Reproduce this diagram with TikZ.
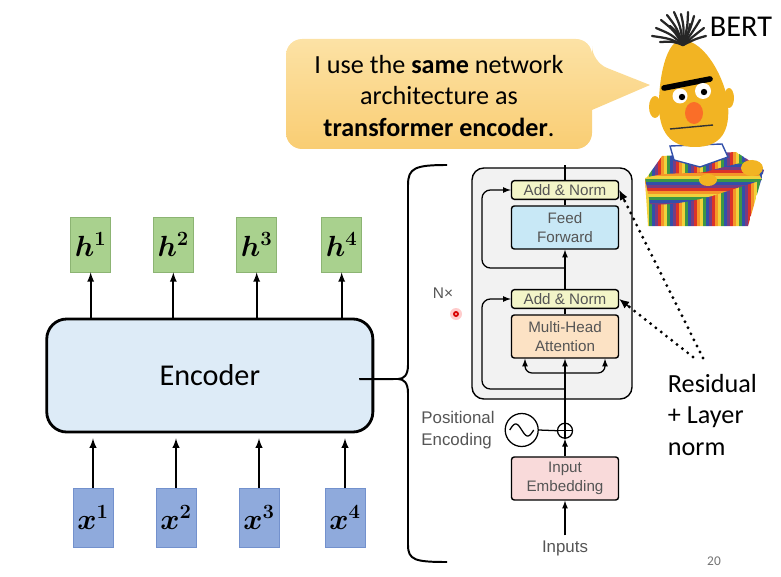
\documentclass[tikz,border=0pt]{standalone}
\usepackage{amsmath}
\usepackage{bm}
\usepackage{fontspec}
\setmainfont{Carlito}
\newfontfamily\helv{Liberation Sans}
\usepackage{tikz}
\usetikzlibrary{arrows,arrows.meta,positioning,calc}

\definecolor{vertH}{RGB}{169,209,142}
\definecolor{vertHbord}{RGB}{140,180,115}
\definecolor{bleuX}{RGB}{143,170,220}
\definecolor{bleuXbord}{RGB}{115,145,205}
\definecolor{bleuEnc}{RGB}{221,235,247}
\definecolor{grisBloc}{RGB}{242,242,242}
\definecolor{jauneNorm}{RGB}{243,245,200}
\definecolor{bleuFF}{RGB}{200,232,246}
\definecolor{orangeMHA}{RGB}{252,226,196}
\definecolor{roseEmb}{RGB}{249,218,218}
\definecolor{texteGris}{RGB}{85,85,85}
\definecolor{bulleHaut}{RGB}{252,226,165}
\definecolor{bulleBas}{RGB}{249,205,115}
\definecolor{jauneBert}{RGB}{242,180,35}
\definecolor{nezBert}{RGB}{250,110,40}
\definecolor{rougeB}{RGB}{220,50,40}
\definecolor{orangeB}{RGB}{245,150,40}
\definecolor{jauneB}{RGB}{240,210,60}
\definecolor{vertB}{RGB}{60,150,70}
\definecolor{bleuB}{RGB}{50,80,170}
\definecolor{violetB}{RGB}{120,60,130}

\begin{document}
\begin{tikzpicture}[x=0.025cm,y=-0.025cm]
\tikzstyle{fleche}=[->,>=latex,line width=1.3pt]
\tikzstyle{flechefine}=[->,>=latex,line width=0.9pt]
\tikzstyle{trait}=[line width=0.9pt]
\tikzstyle{pointille}=[line width=2.3pt,line cap=round,dash pattern=on 0pt off 4.8pt,shorten >=6pt]
\tikzstyle{pointe}=[-{Latex[length=7pt,width=6pt]},line width=1pt]
\tikzstyle{boiteH}=[draw=vertHbord,fill=vertH,minimum width=1cm,minimum height=1.375cm,inner sep=0pt,font=\fontsize{21}{24}\selectfont]
\tikzstyle{boiteX}=[draw=bleuXbord,fill=bleuX,minimum width=1cm,minimum height=1.475cm,inner sep=0pt,font=\fontsize{21}{24}\selectfont]
\tikzstyle{bloc}=[draw,line width=1pt,rounded corners=2pt,minimum width=2.675cm,inner sep=0pt,align=center,text=texteGris,font=\helv\fontsize{10.8}{13.5}\selectfont]
\tikzstyle{norme}=[bloc,fill=jauneNorm,minimum height=0.465cm]
\tikzstyle{couche}=[bloc,minimum height=1.075cm]
\tikzstyle{etiquette}=[text=texteGris,font=\helv\fontsize{12}{15.4}\selectfont]
\tikzstyle{grand}=[font=\fontsize{18.6}{22.6}\selectfont]
\def\NiveauH{244.5}
\def\NiveauEnc{375.5}
\def\NiveauX{517.5}
\def\Axe{565}
\useasboundingbox (0,0) rectangle (781,577);
% bulle
\shade[top color=bulleHaut,bottom color=bulleBas,rounded corners=0.4cm] (286,39) -- (592,39) -- (592,62) [sharp corners] -- (650,85) -- (592,110) [rounded corners=0.4cm] -- (592,149) -- (286,149) -- cycle;
\node[grand,align=center] (bulle) at (439,96) {I use the \textbf{same} network\\architecture as\\\textbf{transformer encoder}.};
% Bert
\begin{scope}
\clip (662,156) -- (736,152) -- (764,170) -- (748,226) -- (648,226) -- (645,180) -- cycle;
\foreach \xs in {640,658,...,766} {
\fill[rougeB] (\xs,150) rectangle +(3,80);
\fill[orangeB] (\xs+3,150) rectangle +(3,80);
\fill[jauneB] (\xs+6,150) rectangle +(3,80);
\fill[vertB] (\xs+9,150) rectangle +(3,80);
\fill[bleuB] (\xs+12,150) rectangle +(3,80);
\fill[violetB] (\xs+15,150) rectangle +(3,80);
}
\end{scope}
\begin{scope}
\clip (645,178) .. controls (670,170) and (700,176) .. (712,170) -- (752,160) -- (762,180) -- (712,196) .. controls (690,202) and (665,206) .. (650,204) -- cycle;
\foreach \ys in {152,170,...,206} {
\fill[rougeB] (640,\ys) rectangle +(130,3);
\fill[orangeB] (640,\ys+3) rectangle +(130,3);
\fill[jauneB] (640,\ys+6) rectangle +(130,3);
\fill[vertB] (640,\ys+9) rectangle +(130,3);
\fill[bleuB] (640,\ys+12) rectangle +(130,3);
\fill[violetB] (640,\ys+15) rectangle +(130,3);
}
\end{scope}
\fill[jauneBert] (708,180) ellipse (9 and 6);
\fill[jauneBert] (752,168) ellipse (11 and 8);
\fill[white,draw=bleuB,line width=1pt] (670,146) -- (722,144) -- (728,157) -- (700,167) -- (674,160) -- cycle;
\fill[jauneBert] (655,107) ellipse (6 and 11);
\fill[jauneBert] (729,98) ellipse (5 and 10);
\fill[jauneBert] (682,40) .. controls (668,40) and (660,70) .. (659,100) .. controls (658,125) and (665,147) .. (695,147) .. controls (722,147) and (730,130) .. (728,105) .. controls (726,80) and (705,40) .. (682,40) -- cycle;
\draw[line width=4pt,line cap=round] (664,88) -- (710,79);
\fill[white] (680,96) circle (7.5);
\fill[white] (703,91) circle (8);
\fill[black] (682,97) circle (3.2);
\fill[black] (704,92) circle (3.2);
\fill[nezBert] (694,113) ellipse (9 and 11);
\draw[line width=1pt,black!80] (670,129) -- (713,125);
\foreach \px/\py in {652/36,656/28,661/20,667/15,674/12,681/14,688/12,694/16,700/20,704/28,706/36,670/26,690/24,660/42} {
\draw[line width=1.6pt,line cap=round,black!85] (683,45) .. controls ($(683,45)!0.5!(\px,\py)+(2,-2)$) .. (\px,\py);
}
\node[font=\fontsize{21.5}{25}\selectfont] (bert) at (741,27) {BERT};
% gauche
\node[boiteH] (h1) at (90.7,\NiveauH) {$\bm{h}^{\bm{1}}$};
\node[boiteH] (h2) at (173.3,\NiveauH) {$\bm{h}^{\bm{2}}$};
\node[boiteH] (h3) at (256.7,\NiveauH) {$\bm{h}^{\bm{3}}$};
\node[boiteH] (h4) at (341.7,\NiveauH) {$\bm{h}^{\bm{4}}$};
\node[draw,line width=2pt,rounded corners=0.5cm,fill=bleuEnc,minimum width=8.15cm,minimum height=2.825cm,font=\fontsize{21.5}{25}\selectfont] (enc) at (209.8,\NiveauEnc) {Encoder};
\node[boiteX] (x1) at (93,\NiveauX) {$\bm{x}^{\bm{1}}$};
\node[boiteX] (x2) at (176,\NiveauX) {$\bm{x}^{\bm{2}}$};
\node[boiteX] (x3) at (259,\NiveauX) {$\bm{x}^{\bm{3}}$};
\node[boiteX] (x4) at (345,\NiveauX) {$\bm{x}^{\bm{4}}$};
\draw[fleche] (h1 |- enc.north)--(h1.south);
\draw[fleche] (h2 |- enc.north)--(h2.south);
\draw[fleche] (h3 |- enc.north)--(h3.south);
\draw[fleche] (h4 |- enc.north)--(h4.south);
\draw[fleche,shorten >=3.5pt] (x1.north)--(x1 |- enc.south);
\draw[fleche,shorten >=3.5pt] (x2.north)--(x2 |- enc.south);
\draw[fleche,shorten >=3.5pt] (x3.north)--(x3 |- enc.south);
\draw[fleche,shorten >=3.5pt] (x4.north)--(x4 |- enc.south);
% accolade
\coordinate (pointe) at (398,379);
\draw[line width=1.4pt] ([xshift=-0.375cm,yshift=-0.09cm]enc.east) -- (pointe);
\draw[line width=1.4pt] (447,165) .. controls (415,165) and (408,168) .. (408,185) -- (408,365) .. controls (408,375) and (404,379) .. (pointe) .. controls (404,379) and (408,383) .. (408,393) -- (408,545) .. controls (408,560) and (415,562) .. (447,562);
% transformer
\node[draw,line width=1pt,rounded corners=0.3cm,fill=grisBloc,minimum width=4cm,minimum height=5.775cm] (pile) at (552,283.5) {};
\node[norme] (normeH) at (\Axe,190) {Add \& Norm};
\node[couche,fill=bleuFF] (ff) at (\Axe,227.5) {Feed\\Forward};
\node[norme] (normeB) at (\Axe,299) {Add \& Norm};
\node[couche,fill=orangeMHA] (mha) at (\Axe,336.5) {Multi-Head\\Attention};
\node[draw,circle,trait,minimum size=0.375cm,inner sep=0pt] (plus) at (\Axe,430.7) {};
\node[draw,circle,trait,minimum size=0.825cm,inner sep=0pt] (onde) at (521.7,430) {};
\node[couche,fill=roseEmb] (emb) at (\Axe,478.5) {Input\\Embedding};
\node[etiquette] (inputs) at (\Axe,548) {Inputs};
\node[etiquette,align=left] (pe) at (458,430) {Positional\\Encoding};
\node[etiquette,font=\helv\fontsize{11}{13}\selectfont] (nx) at (443,293) {N×};
\coordinate (sortie) at (\Axe,165);
\coordinate (branche) at (\Axe,373);
\coordinate (residuB) at (\Axe,389);
\coordinate (residuH) at (\Axe,268);
\draw[flechefine] (inputs.north)--(emb.south);
\draw[flechefine] (emb.north)--(plus.south);
\draw[trait] (plus.north)--(plus.south) (plus.west)--(plus.east);
\draw[trait,shift={(onde.center)}] plot[domain=-12:12,samples=40] (\x,{6*sin(\x*15)});
\draw[trait] (onde.east)--(plus.west);
\draw[flechefine] (plus.north)--(mha.south);
\draw[flechefine,rounded corners=5pt] (branche) -| ([xshift=-1cm]mha.south);
\draw[flechefine,rounded corners=5pt] (branche) -| ([xshift=1cm]mha.south);
\draw[flechefine,rounded corners=6pt] (residuB) -| ([xshift=-0.72cm]normeB.west) -- (normeB.west);
\draw[trait] (mha.north)--(normeB.south);
\draw[flechefine] (normeB.north)--(ff.south);
\draw[flechefine,rounded corners=6pt] (residuH) -| ([xshift=-0.72cm]normeH.west) -- (normeH.west);
\draw[trait] (ff.north)--(normeH.south);
\draw[trait] (normeH.north)--(sortie);
% pointeur
\fill[red!20] (456,314) circle (6);
\fill[red!85!black] (456,314) circle (3);
\fill[red!25] (456,314) circle (1.2);
% residual
\coordinate (residu1) at (703,358);
\coordinate (residu2) at (693,357);
\draw[pointille] (residu1)--(normeH.east);
\draw[pointille] (residu2)--(normeB.east);
\draw[pointe] ($(normeH.east)!9pt!(residu1)$)--(normeH.east);
\draw[pointe] ($(normeB.east)!9pt!(residu2)$)--(normeB.east);
\node[grand,align=left,anchor=west] (legende) at (663,415) {Residual\\+ Layer\\norm};
\node[text=black!55,font=\fontsize{9.5}{11}\selectfont] (page) at (714,561) {20};
\end{tikzpicture}
\end{document}
